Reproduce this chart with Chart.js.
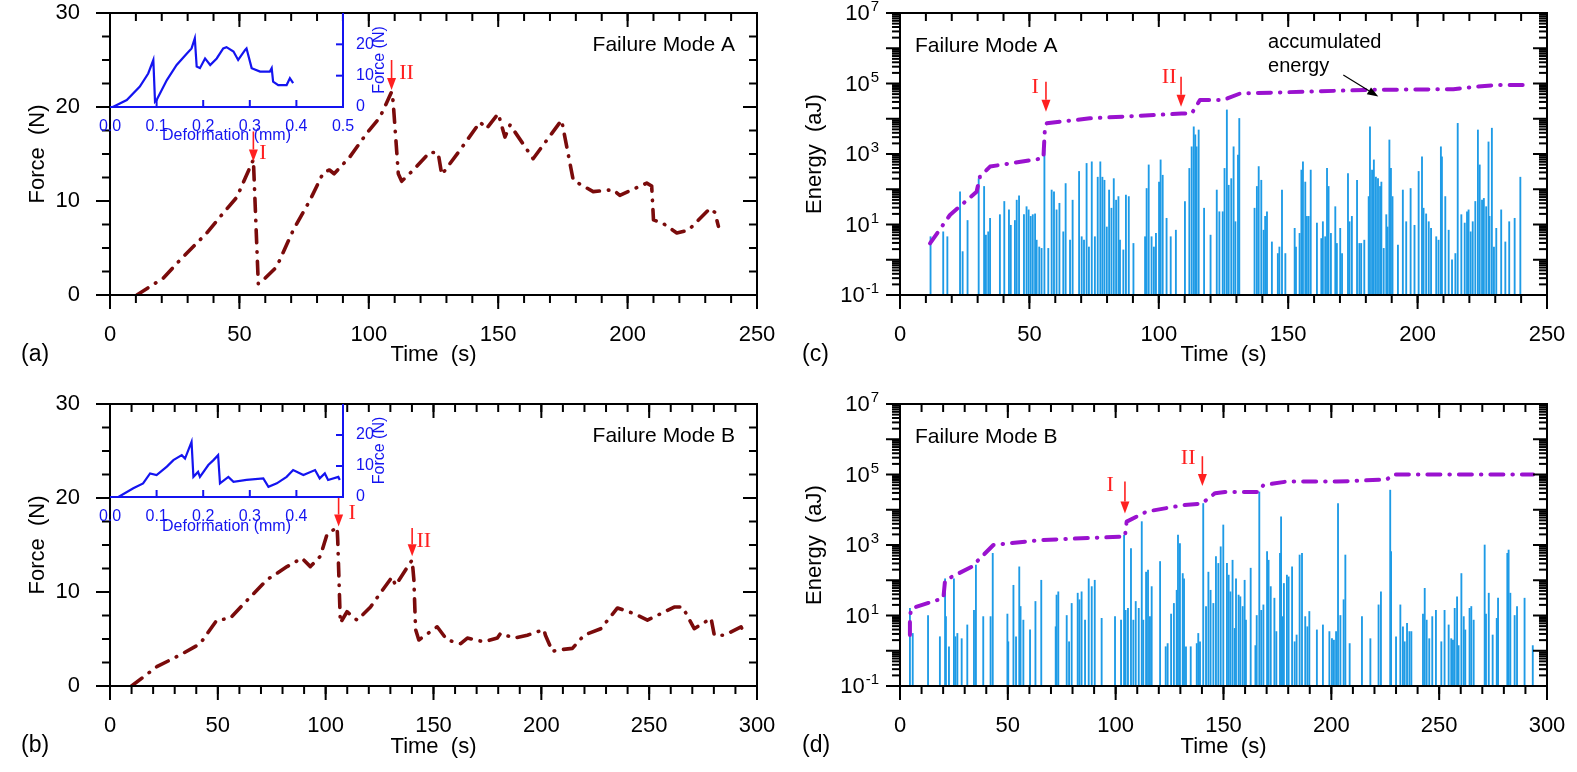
<!DOCTYPE html>
<html>
<head>
<meta charset="utf-8">
<script src="https://cdn.jsdelivr.net/npm/chart.js@4.4.1/dist/chart.umd.min.js"></script>
<style>
  html, body { margin: 0; padding: 0; background: #fff; }
  #page { position: relative; width: 1577px; height: 772px; overflow: hidden; background: #fff; }
  #page canvas { position: absolute; }
</style>
</head>
<body>
<div id="page">
  <canvas id="chartA" style="left:0px;top:0px" width="790" height="380"></canvas>
  <canvas id="chartC" style="left:790px;top:0px" width="787" height="380"></canvas>
  <canvas id="chartB" style="left:0px;top:391px" width="790" height="381"></canvas>
  <canvas id="chartD" style="left:790px;top:391px" width="787" height="381"></canvas>
  <canvas id="insetA" style="left:90px;top:3px" width="310" height="147"></canvas>
  <canvas id="insetB" style="left:90px;top:394px" width="310" height="147"></canvas>
</div>
<script>
// ---- data ----

// (a) force vs time, failure mode A
const forceTimeA = [10.4, 20.6, 27, 37.4, 42.5, 49, 55.4, 57.3, 58.5, 64.4, 70.8, 77.3, 82.4, 84.8, 86.6, 92.7, 99.2, 104.3, 108.8, 109.4, 111.4, 112.7, 117.2, 123.6, 126.8, 128.2, 135.2, 143, 145.5, 150, 152.6, 154.6, 163.5, 174.5, 179, 186.7, 194.4, 197, 207.4, 209.3, 210, 213.8, 219, 223.5, 231.8, 233.7, 235.1];
const forceA = [0, 1.8, 3.7, 6.6, 8.3, 10.4, 14.4, 1.2, 1.4, 3.0, 6.9, 10.1, 13.0, 13.3, 12.9, 14.7, 17.2, 18.9, 21.6, 20.6, 12.9, 12.1, 13.3, 15.2, 15.1, 12.8, 15.4, 18.4, 17.7, 19.3, 16.8, 18.1, 14.5, 18.6, 12.2, 11.0, 11.2, 10.6, 11.9, 11.6, 8.0, 7.6, 6.6, 6.9, 9.2, 8.8, 7.3];

// (b) force vs time, failure mode B
const forceTimeB = [10, 21.7, 32.5, 41.8, 49.5, 55.7, 63.5, 72.8, 82.1, 89, 92.9, 97.5, 100.6, 105.3, 105.6, 106.8, 109.9, 114.6, 120.8, 125.4, 130.8, 132.4, 138.6, 140.1, 140.9, 141.7, 143.2, 151.7, 156.3, 162.6, 165.7, 173.4, 179.6, 181.1, 187.3, 193.5, 201.2, 201.9, 205.2, 206.7, 214.4, 219.8, 227.6, 235.3, 243, 249.2, 255.4, 261.6, 265.5, 270.9, 278.7, 280.2, 284.9, 292.6, 294.1];
const forceB = [0, 2.05, 3.3, 4.5, 7.0, 7.2, 9.1, 11.3, 12.7, 13.6, 12.7, 13.8, 16.1, 16.9, 15.5, 6.7, 7.9, 7.0, 8.4, 9.9, 11.6, 10.7, 12.9, 13.4, 11.3, 6.0, 4.9, 6.3, 4.9, 4.5, 5.1, 4.7, 5.1, 5.6, 5.1, 5.4, 6.0, 5.4, 3.65, 3.8, 4.0, 5.4, 6.1, 8.3, 7.7, 7.0, 7.7, 8.4, 8.4, 6.1, 7.2, 5.4, 5.4, 6.3, 5.6];

// insets: force vs deformation
const deformA = [0.006, 0.036, 0.064, 0.082, 0.093, 0.0966, 0.1, 0.122, 0.143, 0.165, 0.175, 0.182, 0.186, 0.193, 0.204, 0.215, 0.229, 0.243, 0.25, 0.265, 0.275, 0.29, 0.293, 0.304, 0.322, 0.343, 0.347, 0.35, 0.361, 0.379, 0.386, 0.393];
const insetForceA = [0, 2.2, 6.5, 10.7, 15, 1.7, 2.2, 8.6, 13.4, 17.1, 18.7, 21.9, 12.9, 12.4, 15.5, 13.4, 15.5, 18.7, 19.1, 17.7, 15, 18.2, 18.7, 12.4, 11.3, 11.3, 12.4, 8.1, 7.0, 7.0, 9.2, 7.6];
const deformB = [0.018, 0.05, 0.071, 0.086, 0.1, 0.122, 0.136, 0.154, 0.161, 0.175, 0.179, 0.189, 0.193, 0.211, 0.222, 0.232, 0.236, 0.254, 0.265, 0.293, 0.329, 0.34, 0.358, 0.379, 0.393, 0.415, 0.44, 0.45, 0.461, 0.468, 0.49, 0.493];
const insetForceB = [0, 2.8, 4.4, 7.6, 7.1, 9.8, 11.9, 13.5, 12.4, 17.8, 6.5, 8.1, 6.5, 10.3, 11.9, 13.5, 4.4, 6.5, 4.9, 5.5, 6.0, 3.3, 4.4, 6.5, 8.7, 7.1, 8.7, 6.0, 7.6, 5.5, 6.5, 5.5];

// (c) accumulated AE energy and hit energies, mode A
const accTimeC = [11.6, 19.3, 29.6, 30.9, 34.8, 55.4, 56.0, 56.7, 73.4, 108.8, 112.7, 115.9, 124.9, 131.4, 181.6, 213.8, 222.8, 230.6, 240.9];
const accEnergyC = [2.9, 18.6, 85, 230, 440, 760, 5400, 7400, 10300, 14000, 14000, 34000, 34000, 52000, 66000, 69000, 81000, 91000, 91000];
const spikeTimeC = [11.8, 16.7, 18.3, 23.2, 24.2, 26.1, 30.4, 32.5, 33.2, 34.1,
  34.8, 38.6, 40.3, 42.1, 42.8, 44.4, 45.1, 46.0, 47.9, 48.9,
  49.7, 50.5, 51.3, 52.2, 52.8, 53.8, 54.7, 55.8, 57.3, 58.6,
  59.5, 60.5, 61.6, 63.1, 64.0, 65.7, 66.7, 69.2, 70.2, 71.1,
  72.1, 73.0, 74.1, 75.3, 76.4, 77.4, 78.2, 79.0, 79.9, 80.8,
  81.7, 82.6, 83.5, 84.4, 85.0, 86.3, 87.3, 88.4, 90.2, 94.7,
  95.3, 96.1, 97.2, 98.1, 98.9, 100.1, 100.7, 101.5, 103.0, 104.6,
  106.6, 110.1, 111.8, 112.7, 113.5, 114.1, 114.6, 115.4, 117.5, 120.0,
  122.4, 123.4, 124.7, 125.4, 126.3, 127.0, 128.0, 128.9, 129.6, 130.6,
  131.1, 137.0, 137.9, 138.6, 139.6, 140.5, 141.1, 141.8, 143.7, 146.0,
  146.6, 147.6, 148.9, 152.5, 153.0, 154.4, 155.1, 155.7, 156.6, 157.2,
  157.9, 158.7, 161.1, 162.8, 163.4, 164.3, 165.0, 165.6, 166.5, 168.2,
  168.8, 170.1, 170.8, 173.1, 173.7, 174.6, 176.6, 177.5, 178.2, 179.4,
  181.1, 181.6, 182.4, 183.1, 183.9, 184.7, 185.5, 186.0, 186.9, 187.9,
  188.4, 189.1, 189.7, 190.3, 192.4, 194.3, 195.6, 197.3, 198.8, 200.4,
  201.7, 202.3, 203.3, 204.3, 205.2, 207.2, 208.1, 209.0, 209.4, 210.7,
  212.0, 213.3, 214.6, 215.5, 216.9, 218.2, 219.1, 219.7, 220.5, 221.3,
  222.3, 223.3, 224.0, 224.9, 225.6, 226.5, 227.4, 227.8, 228.7, 229.5,
  230.4, 232.3, 233.9, 235.4, 237.5, 239.7];
const spikeEnergyC = [4.5, 6.2, 4.5, 85, 1.7, 13, 200, 120, 5, 6.2,
  15, 19, 45, 26, 9.5, 13, 49, 65, 19, 32,
  26, 17, 19, 20, 3.6, 2.3, 2.1, 1300, 2.1, 95,
  85, 26, 40, 6.2, 145, 3.6, 49, 320, 4.5, 3.6,
  540, 2.3, 600, 4.5, 220, 600, 220, 180, 8.5, 95,
  29, 200, 49, 62, 3.6, 1.9, 68, 62, 2.9, 4.5,
  105, 490, 4.5, 2.3, 5.6, 160, 680, 250, 15, 4.5,
  6.9, 45, 390, 1600, 5900, 3500, 1600, 4800, 29, 5,
  95, 23, 23, 390, 17800, 130, 200, 1600, 12, 930,
  10200, 29, 120, 440, 180, 6.9, 17, 23, 3.2, 1.5,
  2.3, 95, 1.5, 7.8, 2.3, 5.6, 350, 600, 160, 17,
  17, 350, 11, 4, 12, 4.5, 390, 120, 5.6, 32,
  2.9, 7.8, 1.5, 280, 12, 17, 180, 2.9, 2.9, 3.6,
  62, 5900, 350, 680, 220, 200, 120, 160, 2.1, 19,
  8.5, 2500, 390, 62, 2.6, 95, 12, 105, 9.5, 320,
  830, 29, 20, 12, 7.8, 4.5, 3.6, 1600, 830, 62,
  6.9, 1, 1.5, 7400, 19, 11, 23, 26, 6.2, 12,
  45, 4800, 490, 49, 55, 32, 2200, 17, 5400, 2.3,
  7.8, 26, 3.2, 12, 15, 220];

// (d) accumulated AE energy and hit energies, mode B
const accTimeD = [4.6, 4.6, 5.4, 20.1, 20.9, 33.2, 43.3, 64.9, 104.3, 105.1, 114.4, 131.4, 139.9, 146.1, 150.7, 166.2, 168.5, 179.3, 202.5, 225.7, 228.7, 293.6];
const accEnergyD = [2.8, 10, 16, 31, 100, 240, 1000, 1380, 1740, 4600, 8900, 13500, 15000, 29500, 32000, 32000, 50000, 63000, 63000, 72000, 100000, 100000];
const spikeTimeD = [4.6, 5.9, 13.0, 18.5, 20.9, 21.3, 22.7, 25.0, 25.7, 26.6,
  28.6, 31.2, 34.3, 35.2, 38.6, 42.0, 43.0, 49.8, 50.2, 52.6,
  53.8, 55.3, 55.9, 57.2, 60.3, 62.8, 65.5, 72.2, 72.6, 73.4,
  77.3, 78.4, 79.6, 82.4, 83.2, 84.2, 85.8, 87.5, 88.9, 90.3,
  93.5, 99.7, 102.5, 103.9, 104.6, 105.7, 107.1, 108.2, 109.3, 110.7,
  112.1, 112.8, 114.1, 115.0, 115.9, 116.7, 120.6, 123.2, 124.1, 125.7,
  127.0, 128.3, 128.9, 129.8, 131.1, 131.7, 132.6, 134.8, 137.6, 138.3,
  139.1, 140.6, 141.9, 143.0, 144.0, 145.3, 146.5, 147.6, 148.7, 149.9,
  151.6, 152.4, 153.2, 154.2, 155.2, 155.8, 157.0, 157.8, 158.9, 159.8,
  160.4, 162.6, 164.8, 165.4, 166.6, 167.5, 168.5, 170.2, 170.9, 171.9,
  173.6, 174.5, 176.2, 176.7, 177.4, 178.0, 179.4, 180.2, 181.8, 183.0,
  183.9, 185.3, 186.4, 187.9, 188.9, 189.8, 193.3, 196.1, 199.1, 200.3,
  201.2, 202.2, 203.1, 204.2, 205.7, 206.5, 208.5, 214.2, 218.1, 221.9,
  223.0, 227.3, 227.7, 230.0, 232.0, 233.2, 234.0, 235.1, 236.2, 237.1,
  242.5, 243.3, 244.2, 245.4, 246.8, 248.5, 251.0, 252.5, 254.4, 255.6,
  256.4, 257.2, 258.3, 259.0, 260.3, 261.4, 262.1, 264.1, 264.9, 266.0,
  271.1, 271.7, 273.0, 274.8, 276.7, 277.3, 281.6, 282.2, 283.0, 285.0,
  286.1, 289.6, 293.4];
const spikeEnergyD = [16, 3.1, 10, 2.5, 110, 9.3, 1.3, 110, 2.5, 3.1,
  2.2, 5.4, 14, 270, 9.3, 9.3, 580, 11, 1.8, 72,
  2.5, 240, 18, 7.4, 3.9, 25, 100, 4.8, 38, 47,
  10, 1.8, 22, 43, 28, 47, 7.4, 110, 66, 100,
  8.3, 9.3, 7.4, 1900, 14, 16, 790, 7.4, 25, 16,
  4600, 7.4, 170, 195, 9.3, 66, 340, 1.3, 1.6, 11,
  22, 52, 1900, 1100, 155, 110, 1.3, 1.3, 1.6, 3.1,
  1.8, 15000, 18, 170, 52, 22, 470, 300, 890, 3700,
  300, 140, 47, 370, 4.3, 110, 38, 34, 18, 100,
  7.4, 220, 1.4, 10, 32000, 14, 20, 650, 370, 66,
  31, 3.5, 580, 6300, 9.3, 81, 140, 125, 240, 1.8,
  2.8, 520, 580, 9.3, 4.8, 13, 3.9, 5.4, 3.5, 2.2,
  2, 3.5, 15000, 10, 28, 520, 1.6, 9.3, 2.2, 20,
  47, 36000, 650, 2.5, 20, 4.8, 1.8, 6, 3.5, 3.5,
  11, 59, 7.4, 2.2, 9.3, 14, 1.8, 14, 5.4, 2.2,
  2, 16, 34, 1.4, 155, 9.3, 3.9, 16, 18, 7.4,
  1000, 11, 43, 2.8, 8.3, 31, 580, 720, 43, 10,
  18, 31, 1.4];

// axis ticks
const forceTicks = [0, 10, 20, 30];
const insetForceTicks = [0, 10, 20];
const insetDeformTicksA = [0, 0.1, 0.2, 0.3, 0.4, 0.5];
const insetDeformTicksB = [0, 0.1, 0.2, 0.3, 0.4];
const logExponents = [-1, 1, 3, 5, 7];

// ---- styling ----
const SANS = "'Liberation Sans', Arial, Helvetica, sans-serif";
const SERIF = "'Liberation Serif', 'Times New Roman', serif";
const FORCE_COLOR = '#7a0b0b';
const ACC_COLOR = '#9a12cf';
const SPIKE_COLOR = '#1e9be6';
const INSET_COLOR = '#1414f0';
const NOTE_RED = '#ff2020';
const DASH_DOT = [13, 9, 0.5, 9];

Chart.defaults.font.family = SANS;
Chart.defaults.color = '#000';

function xyPoints(xs, ys) {
  return xs.map((x, i) => ({ x: x, y: ys[i] }));
}
function spikeBars(ts, es) {
  return ts.map((t, i) => ({ x: t, y: [0.1, es[i]] }));
}
function steps(from, to, step) {
  const out = [];
  for (let v = from; v <= to + 1e-9; v += step) out.push(+v.toFixed(6));
  return out;
}
function logMinor() {
  const out = [];
  for (let e = -1; e < 7; e++) {
    for (let m = 2; m <= 9; m++) out.push(m * Math.pow(10, e));
  }
  return out;
}
// keep the plot area where the layout padding puts it
function fixSize(w, h) {
  return s => {
    if (w) s.width = w;
    if (h) s.height = h;
    s.paddingTop = 0; s.paddingBottom = 0; s.paddingLeft = 0; s.paddingRight = 0;
  };
}

// frame with ticks on all four sides (or bottom+right for the insets)
const boxPlugin = {
  id: 'box',
  afterDatasetsDraw(chart, args, o) {
    if (!o || !o.xMajor) return;
    const ctx = chart.ctx, a = chart.chartArea;
    const sx = chart.scales.x, sy = chart.scales.y;
    ctx.save();
    ctx.strokeStyle = o.color;
    ctx.lineWidth = o.lineWidth;
    const seg = (x1, y1, x2, y2) => { ctx.beginPath(); ctx.moveTo(x1, y1); ctx.lineTo(x2, y2); ctx.stroke(); };
    const xTicks = (vals, len, base, dir) => vals.forEach(v => { const p = sx.getPixelForValue(v); seg(p, base, p, base + dir * len); });
    const yTicks = (vals, len, base, dir) => vals.forEach(v => { const p = sy.getPixelForValue(v); seg(base, p, base + dir * len, p); });
    if (o.inset) {
      seg(a.left, a.bottom, a.right + 1, a.bottom);
      seg(a.right, a.bottom, a.right, a.top);
      xTicks(o.xMajor, o.major, a.bottom, -1);
      yTicks(o.yMajor, o.major, a.right, -1);
    } else {
      ctx.strokeRect(a.left, a.top, a.width, a.height);
      xTicks(o.xMajor, o.major, a.bottom, 1); xTicks(o.xMinor, o.minor, a.bottom, 1);
      xTicks(o.xMajor, o.major, a.top, 1); xTicks(o.xMinor, o.minor, a.top, 1);
      yTicks(o.yMajor, o.major, a.left, -1); yTicks(o.yMinor, o.minor, a.left, -1);
      yTicks(o.yMajor, o.major, a.right, -1); yTicks(o.yMinor, o.minor, a.right, -1);
    }
    if (o.logLabels) {
      ctx.fillStyle = '#000';
      ctx.textBaseline = 'middle';
      ctx.textAlign = 'right';
      o.logLabels.forEach(e => {
        const py = sy.getPixelForValue(Math.pow(10, e));
        const sup = String(e);
        ctx.font = '15px ' + SANS;
        const w = ctx.measureText(sup).width;
        const xr = a.left - 21;
        ctx.fillText(sup, xr, py - 6);
        ctx.font = '22px ' + SANS;
        ctx.fillText('10', xr - w - 1, py + 1);
      });
    }
    ctx.restore();
  }
};

function drawArrow(ctx, x1, y1, x2, y2, color, width, head, half) {
  const ang = Math.atan2(y2 - y1, x2 - x1);
  const bx = x2 - head * Math.cos(ang), by = y2 - head * Math.sin(ang);
  ctx.strokeStyle = color; ctx.fillStyle = color; ctx.lineWidth = width;
  ctx.beginPath(); ctx.moveTo(x1, y1); ctx.lineTo(bx, by); ctx.stroke();
  ctx.beginPath();
  ctx.moveTo(x2, y2);
  ctx.lineTo(bx + half * Math.sin(ang), by - half * Math.cos(ang));
  ctx.lineTo(bx - half * Math.sin(ang), by + half * Math.cos(ang));
  ctx.closePath(); ctx.fill();
}

// arrows, roman numerals, mode captions, panel letters
const notesPlugin = {
  id: 'notes',
  afterDraw(chart, args, o) {
    if (!o || !o.on) return;
    const ctx = chart.ctx, a = chart.chartArea;
    const sx = chart.scales.x, sy = chart.scales.y;
    ctx.save();
    (o.arrows || []).forEach(ar => {
      drawArrow(ctx, sx.getPixelForValue(ar.x1), sy.getPixelForValue(ar.y1),
        sx.getPixelForValue(ar.x2), sy.getPixelForValue(ar.y2),
        ar.color, ar.width, ar.head, ar.half);
    });
    ctx.textBaseline = 'middle';
    (o.labels || []).forEach(l => {
      ctx.font = l.font; ctx.fillStyle = l.color; ctx.textAlign = l.align || 'center';
      ctx.fillText(l.text, sx.getPixelForValue(l.x), sy.getPixelForValue(l.y));
    });
    if (o.caption) {
      ctx.font = '21px ' + SANS; ctx.fillStyle = '#000';
      if (o.caption.side === 'right') { ctx.textAlign = 'right'; ctx.fillText(o.caption.text, a.right - 22, a.top + 32); }
      else { ctx.textAlign = 'left'; ctx.fillText(o.caption.text, a.left + 15, a.top + 33); }
    }
    if (o.letter) {
      ctx.font = '23px ' + SANS; ctx.fillStyle = '#000'; ctx.textAlign = 'left';
      ctx.fillText(o.letter.text, o.letter.x, o.letter.y);
    }
    if (o.sideTitle) {
      ctx.font = '16px ' + SANS; ctx.fillStyle = o.sideTitle.color; ctx.textAlign = 'center';
      ctx.translate(a.right + o.sideTitle.dx, (a.top + a.bottom) / 2);
      ctx.rotate(-Math.PI / 2);
      ctx.fillText(o.sideTitle.text, 0, 0);
    }
    ctx.restore();
  }
};

Chart.register(boxPlugin, notesPlugin);

function romanArrow(x, y1, y2) {
  return { x1: x, y1: y1, x2: x, y2: y2, color: NOTE_RED, width: 1.6, head: 12, half: 4.5 };
}
function roman(text, x, y) {
  return { text: text, x: x, y: y, font: '22px ' + SERIF, color: NOTE_RED };
}

function baseOptions(padRight, xHeight, xMax) {
  return {
    responsive: false, devicePixelRatio: 1, animation: false, events: [],
    layout: { padding: { left: 0, top: 13, right: padRight, bottom: 0 } },
    scales: {
      x: {
        type: 'linear', min: 0, max: xMax, offset: false,
        grid: { display: false }, border: { display: false },
        ticks: { stepSize: 50, autoSkip: false, maxRotation: 0, padding: 19, font: { size: 22 } },
        title: { display: true, text: 'Time  (s)', font: { size: 22 }, padding: { top: 0, bottom: 12 } },
        afterFit: fixSize(0, xHeight)
      }
    }
  };
}

function forceChart(id, times, forces, xMax, xHeight, notes) {
  const opts = baseOptions(33, xHeight, xMax);
  opts.scales.y = {
    type: 'linear', min: 0, max: 30,
    grid: { display: false }, border: { display: false },
    afterBuildTicks: s => { s.ticks = forceTicks.map(v => ({ value: v })); },
    ticks: { padding: 22, font: { size: 22 } },
    title: { display: true, text: 'Force  (N)', font: { size: 22 }, padding: { top: 25, bottom: 0 } },
    afterFit: fixSize(110, 0)
  };
  opts.plugins = {
    legend: { display: false }, tooltip: { enabled: false },
    box: { color: '#000', lineWidth: 2, major: 14, minor: 8,
      xMajor: steps(0, xMax, 50), xMinor: steps(0, xMax, 10),
      yMajor: forceTicks, yMinor: steps(0, 30, 2.5) },
    notes: notes
  };
  return new Chart(document.getElementById(id), {
    type: 'line',
    data: { datasets: [{
      data: xyPoints(times, forces),
      borderColor: FORCE_COLOR, borderWidth: 3.6, borderDash: DASH_DOT,
      borderCapStyle: 'round', borderJoinStyle: 'round', pointRadius: 0, tension: 0
    }] },
    options: opts
  });
}

function energyChart(id, accT, accE, spT, spE, xMax, xHeight, notes) {
  const opts = baseOptions(30, xHeight, xMax);
  opts.scales.y = {
    type: 'logarithmic', min: 0.1, max: 1e7,
    grid: { display: false }, border: { display: false },
    ticks: { display: false },
    title: { display: true, text: 'Energy  (aJ)', font: { size: 22 }, padding: { top: 12, bottom: 0 } },
    afterFit: fixSize(110, 0)
  };
  opts.plugins = {
    legend: { display: false }, tooltip: { enabled: false },
    box: { color: '#000', lineWidth: 2, major: 14, minor: 8,
      xMajor: steps(0, xMax, 50), xMinor: steps(0, xMax, 10),
      yMajor: logExponents.concat([0, 2, 4, 6]).map(e => Math.pow(10, e)), yMinor: logMinor(),
      logLabels: logExponents },
    notes: notes
  };
  return new Chart(document.getElementById(id), {
    type: 'bar',
    data: { datasets: [
      { type: 'line', order: 0, data: xyPoints(accT, accE),
        borderColor: ACC_COLOR, borderWidth: 4, borderDash: DASH_DOT,
        borderCapStyle: 'round', borderJoinStyle: 'round', pointRadius: 0, tension: 0 },
      { type: 'bar', order: 1, data: spikeBars(spT, spE),
        backgroundColor: SPIKE_COLOR, borderWidth: 0, barThickness: 1.2 }
    ] },
    options: opts
  });
}

function insetChart(id, d, f, xLabels, xHeight) {
  return new Chart(document.getElementById(id), {
    type: 'line',
    data: { datasets: [{ data: xyPoints(d, f), borderColor: INSET_COLOR, borderWidth: 2.2, pointRadius: 0, tension: 0 }] },
    options: {
      responsive: false, devicePixelRatio: 1, animation: false, events: [],
      layout: { padding: { left: 20, top: 10, right: 0, bottom: 0 } },
      scales: {
        x: {
          type: 'linear', min: 0, max: 0.5,
          grid: { display: false }, border: { display: false },
          afterBuildTicks: s => { s.ticks = xLabels.map(v => ({ value: v })); },
          ticks: { autoSkip: false, maxRotation: 0, padding: 2, color: INSET_COLOR,
            font: { size: 16 }, callback: v => v.toFixed(1) },
          title: { display: true, text: 'Deformation (mm)', color: INSET_COLOR, font: { size: 16 }, padding: { top: 0, bottom: 5 } },
          afterFit: fixSize(0, xHeight)
        },
        y: {
          type: 'linear', position: 'right', min: 0, max: 30,
          grid: { display: false }, border: { display: false },
          afterBuildTicks: s => { s.ticks = insetForceTicks.map(v => ({ value: v })); },
          ticks: { padding: 5, color: INSET_COLOR, font: { size: 16 } },
          afterFit: fixSize(57, 0)
        }
      },
      plugins: {
        legend: { display: false }, tooltip: { enabled: false },
        box: { inset: true, color: INSET_COLOR, lineWidth: 2, major: 7,
          xMajor: steps(0.1, 0.5, 0.1), yMajor: [10, 20] },
        notes: { on: true, sideTitle: { text: 'Force (N)', dx: 37, color: INSET_COLOR } }
      }
    }
  });
}

forceChart('chartA', forceTimeA, forceA, 250, 85, {
  on: true,
  arrows: [romanArrow(55.4, 17.4, 14.2), romanArrow(108.8, 25, 21.8)],
  labels: [roman('I', 59.1, 15.05), roman('II', 114.6, 23.6)],
  caption: { text: 'Failure Mode A', side: 'right' },
  letter: { text: '(a)', x: 21, y: 355 }
});

forceChart('chartB', forceTimeB, forceB, 300, 86, {
  on: true,
  arrows: [romanArrow(106, 20, 16.97), romanArrow(140.1, 16.8, 13.8)],
  labels: [roman('I', 112.3, 18.4), roman('II', 145.5, 15.35)],
  caption: { text: 'Failure Mode B', side: 'right' },
  letter: { text: '(b)', x: 21, y: 355 }
});

energyChart('chartC', accTimeC, accEnergyC, spikeTimeC, spikeEnergyC, 250, 85, {
  on: true,
  arrows: [romanArrow(56.4, 112000, 15800), romanArrow(108.6, 155000, 22000),
    { x1: 171.3, y1: 174000, x2: 184.8, y2: 42500, color: '#000', width: 1.2, head: 11, half: 4 }],
  labels: [roman('I', 52.2, 81000), roman('II', 104.0, 155000),
    { text: 'accumulated', x: 142.2, y: 1.5e6, font: '20px ' + SANS, color: '#000', align: 'left' },
    { text: 'energy', x: 142.2, y: 2.95e5, font: '20px ' + SANS, color: '#000', align: 'left' }],
  caption: { text: 'Failure Mode A', side: 'left' },
  letter: { text: '(c)', x: 12, y: 355 }
});

energyChart('chartD', accTimeD, accEnergyD, spikeTimeD, spikeEnergyD, 300, 86, {
  on: true,
  arrows: [romanArrow(104.3, 63000, 7800), romanArrow(140.2, 330000, 47000)],
  labels: [roman('I', 97.4, 50000), roman('II', 133.6, 290000)],
  caption: { text: 'Failure Mode B', side: 'left' },
  letter: { text: '(d)', x: 12, y: 355 }
});

insetChart('insetA', deformA, insetForceA, insetDeformTicksA, 43);
insetChart('insetB', deformB, insetForceB, insetDeformTicksB, 44);
</script>
</body>
</html>
